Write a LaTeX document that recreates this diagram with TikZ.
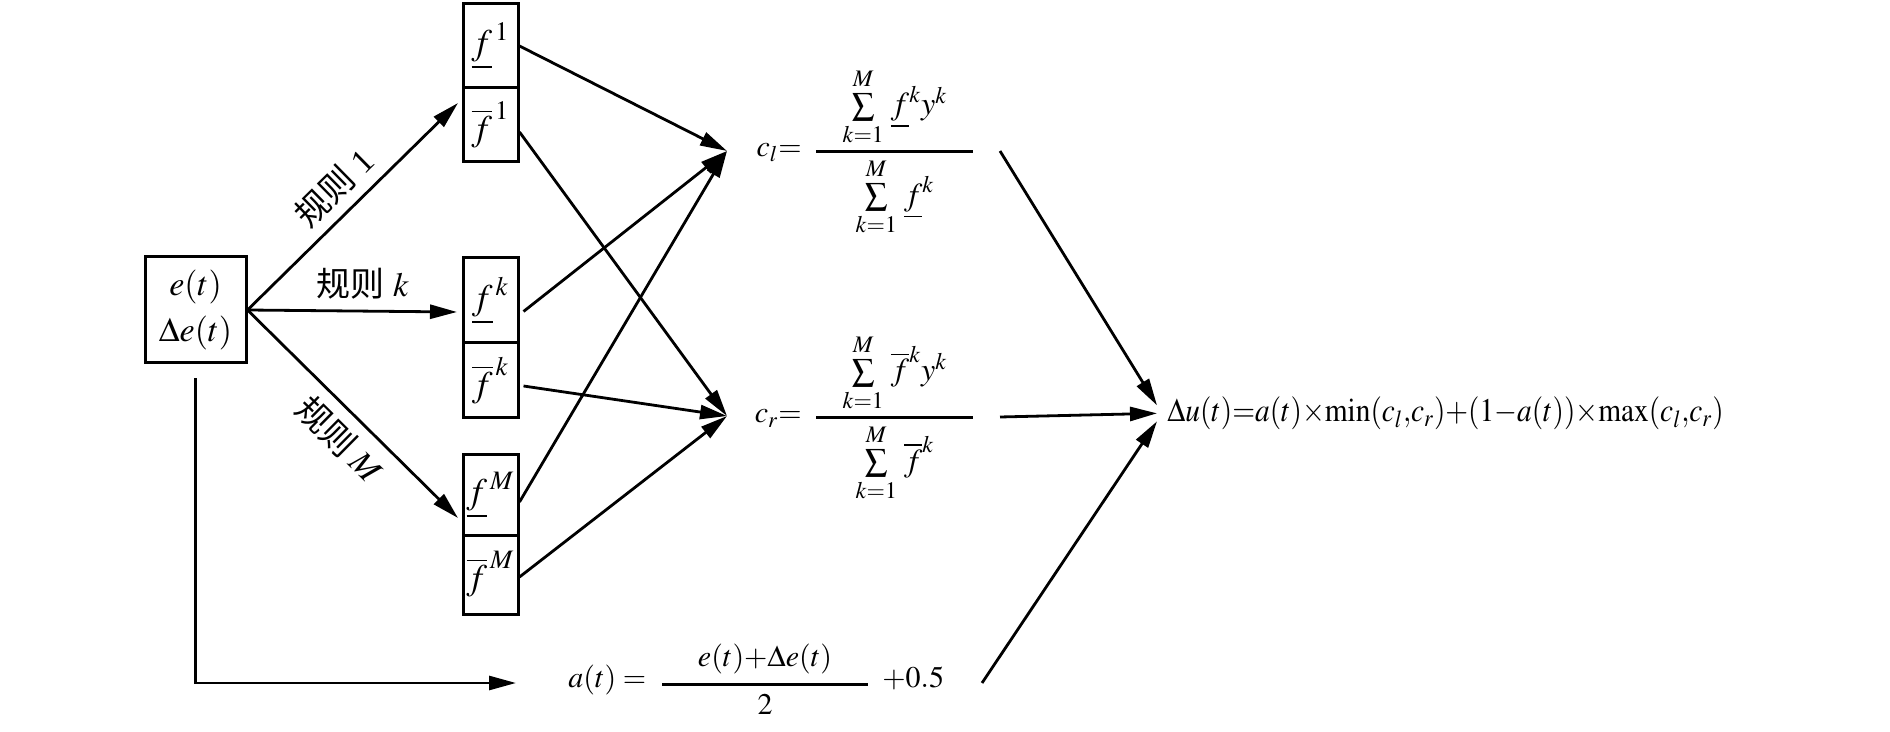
\documentclass[tikz,border=0pt]{standalone}
\usepackage{mathptmx}
\usepackage[no-math]{fontspec}
\setmainfont{Liberation Serif}
\newfontfamily\cjk{Noto Sans CJK SC}
\usetikzlibrary{arrows.meta}
\begin{document}
\begin{tikzpicture}[x=0.5pt,y=-0.5pt,
  every node/.style={font=\fontsize{15}{18}\selectfont},
  box/.style={draw, line width=1.5pt, inner sep=0pt},
  cell/.style={draw, line width=1.5pt, minimum width=27.5pt, inner sep=0pt, font=\fontsize{18}{20}\selectfont},
  conn/.style={line width=1.4pt, -{Triangle[length=13.5pt,width=7pt]}},
  plain/.style={line width=1.5pt},
  txt/.style={inner sep=0pt},
  lbl/.style={inner sep=0pt, font=\fontsize{17}{19}\selectfont},
  frac/.style={inner sep=0pt, font=\fontsize{16}{18}\selectfont}]
\useasboundingbox (0,0) rectangle (1890,732);

% input box
\node[box, minimum width=50.5pt, minimum height=53pt, align=center,
      font=\fontsize{17}{23}\selectfont] (inbox) at (195.5,310) {$e(t)$\\$\Delta e(t)$};

% cells
\node[cell, minimum height=42pt]   (u1) at (490.5,46)    {$\underline{f}^{\,1}$};
\node[cell, minimum height=37pt]   (o1) at (490.5,125)   {$\overline{f}^{\,1}$};
\node[cell, minimum height=42.5pt] (uk) at (490.5,300.5) {$\underline{f}^{\,k}$};
\node[cell, minimum height=37.5pt] (ok) at (490.5,380.5) {$\overline{f}^{\,k}$};
\node[cell, minimum height=40pt]   (uM) at (490.5,495)   {$\underline{f}^{\,M}$};
\node[cell, minimum height=39.5pt] (oM) at (490.5,574.5) {$\overline{f}^{\,M}$};

% rule arrows
\coordinate (t1) at (458,103);
\coordinate (tk) at (457,312);
\coordinate (tM) at (458,518);
\draw[conn] (inbox.east) -- node[lbl, sloped, above=5pt, pos=0.5] {{\cjk 规则} 1} (t1);
\draw[conn] (inbox.east) -- node[lbl, above=5pt, pos=0.55] {{\cjk 规则} $k$} (tk);
\draw[conn] (inbox.east) -- node[lbl, sloped, below=5pt, pos=0.53] {{\cjk 规则} $M$} (tM);

% to c_l and c_r
\coordinate (clin) at (727,151);
\coordinate (crin) at (727,416);
\draw[conn] (u1.east) -- (clin);
\draw[conn] ([yshift=-3.5pt]o1.east) -- (crin);
\draw[conn] ([xshift=2pt,yshift=-5.5pt]uk.east) -- (clin);
\draw[conn] ([xshift=2pt,yshift=-2.75pt]ok.east) -- (crin);
\draw[conn] ([yshift=-3.5pt]uM.east) -- (clin);
\draw[conn] ([yshift=-1.25pt]oM.east) -- (crin);

% c_l formula
\node[txt, anchor=mid east] (cleq) at (802,152) {$c_l{=}$};
\coordinate (clL) at (816,152);
\coordinate (clR) at (973,152);
\draw[plain] (clL) -- (clR);
\node[frac, anchor=south] (clnum) at (895,146) {$\sum\limits_{k=1}^{M}\,\underline{f}^{k}y^{k}$};
\node[frac, anchor=north] (clden) at (895,158) {$\sum\limits_{k=1}^{M}\,\underline{f}^{k}$};

% c_r formula
\node[txt, anchor=mid east] (creq) at (802,418) {$c_r{=}$};
\coordinate (crL) at (816,418);
\coordinate (crR) at (973,418);
\draw[plain] (crL) -- (crR);
\node[frac, anchor=south] (crnum) at (895,412) {$\sum\limits_{k=1}^{M}\,\overline{f}^{k}y^{k}$};
\node[frac, anchor=north] (crden) at (895,424) {$\sum\limits_{k=1}^{M}\,\overline{f}^{k}$};

% Delta u
\node[txt, anchor=mid west, font=\fontsize{16.5}{20}\selectfont] (du) at (1167,417)
  {\scalebox{0.89}[1]{$\Delta u(t){=}a(t){\times}\mathrm{min}(c_l{,}c_r){+}(1{-}a(t)){\times}\mathrm{max}(c_l{,}c_r)$}};
\coordinate (clout) at (1000,151);
\coordinate (crout) at (1000,417);
\coordinate (aout) at (982,683);
\draw[conn] (clout) -- ([xshift=-5pt,yshift=4pt]du.west);
\draw[conn] (crout) -- ([xshift=-5pt]du.west);
\draw[conn] (aout) -- ([xshift=-5pt,yshift=-4pt]du.west);

% a(t)
\coordinate (atin) at (516,683);
\draw[conn] ([yshift=-7pt]inbox.south) |- (atin);
\node[txt, anchor=mid west] (aeq) at (568,683) {$a(t) =$};
\coordinate (aL) at (662,684);
\coordinate (aR) at (868,684);
\draw[plain] (aL) -- (aR);
\node[txt, anchor=south] (anum) at (765,674) {$e(t){+}\Delta e(t)$};
\node[txt, anchor=north] (aden) at (765,694) {$2$};
\node[txt, anchor=mid west] (aplus) at (882,683) {$+0.5$};
\end{tikzpicture}
\end{document}
